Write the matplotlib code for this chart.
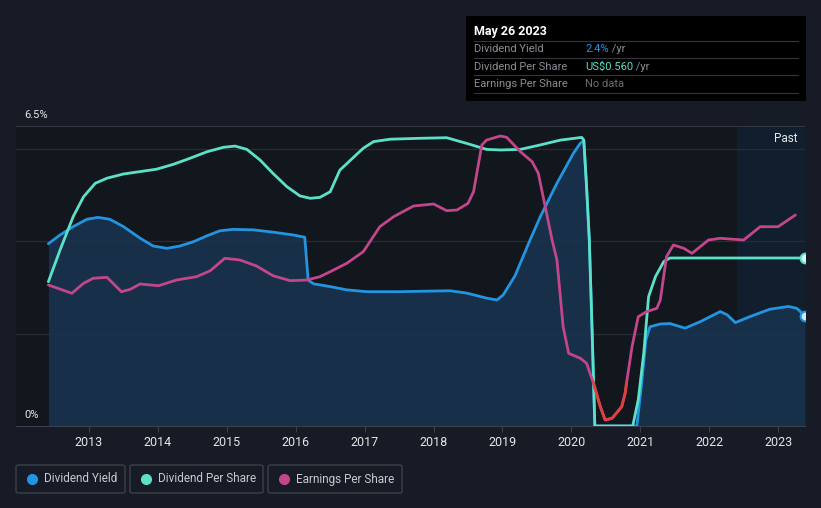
import numpy as np
import matplotlib
matplotlib.use("Agg")
import matplotlib.pyplot as plt
from matplotlib.patches import FancyBboxPatch, Rectangle
from matplotlib.lines import Line2D

plt.rcParams['font.family'] = ['Roboto', 'DejaVu Sans']

# --- data (decimal years) ---
yield_years = [2012.41, 2012.58, 2012.77, 2012.97, 2013.13, 2013.30, 2013.50, 2013.74,
               2013.93, 2014.13, 2014.32, 2014.51, 2014.71, 2014.90, 2015.09, 2015.38,
               2015.67, 2015.96, 2016.13, 2016.18, 2016.26, 2016.50, 2016.74,
               2017.03, 2017.47, 2018.24, 2018.48, 2018.77, 2018.92, 2019.01, 2019.18,
               2019.40, 2019.55, 2019.79, 2020.03, 2020.13, 2020.18, 2020.22, 2020.26,
               2020.30, 2020.34, 2020.95, 2021.02, 2021.08, 2021.14, 2021.29, 2021.43,
               2021.65, 2021.87, 2022.16, 2022.26, 2022.38, 2022.59, 2022.88, 2023.15,
               2023.27, 2023.39]
yield_pct = [3.95, 4.14, 4.32, 4.48, 4.52, 4.48, 4.32, 4.07,
             3.90, 3.85, 3.90, 3.99, 4.12, 4.23, 4.26, 4.25,
             4.20, 4.14, 4.09, 3.16, 3.08, 3.02, 2.95,
             2.91, 2.91, 2.93, 2.88, 2.77, 2.73, 2.84, 3.25,
             4.03, 4.54, 5.26, 5.91, 6.13, 6.18, 5.19, 4.03,
             2.08, 0.00, 0.00, 0.93, 1.86, 2.15, 2.21, 2.22,
             2.12, 2.26, 2.48, 2.41, 2.24, 2.37, 2.53, 2.59,
             2.55, 2.39]

dps_years = [2012.41, 2012.58, 2012.77, 2012.92, 2013.09, 2013.26, 2013.50, 2013.74,
             2013.98, 2014.22, 2014.46, 2014.71, 2014.95, 2015.12, 2015.29, 2015.48,
             2015.67, 2015.87, 2016.06, 2016.21, 2016.35, 2016.50, 2016.64, 2016.98,
             2017.13, 2017.37, 2017.80, 2018.19, 2018.48, 2018.77, 2018.97, 2019.26,
             2019.55, 2019.84, 2020.15, 2020.18, 2020.22, 2020.26, 2020.30, 2020.34,
             2020.89, 2020.97, 2021.05, 2021.12, 2021.22, 2021.34, 2021.43, 2023.39]
dps_usd = [0.481, 0.587, 0.698, 0.764, 0.809, 0.826, 0.840, 0.848,
           0.856, 0.872, 0.892, 0.914, 0.929, 0.933, 0.922, 0.887,
           0.842, 0.798, 0.767, 0.759, 0.762, 0.781, 0.853, 0.926,
           0.948, 0.956, 0.959, 0.961, 0.942, 0.922, 0.920, 0.922,
           0.937, 0.953, 0.962, 0.953, 0.798, 0.620, 0.320, 0.0,
           0.0, 0.087, 0.243, 0.431, 0.498, 0.548, 0.560, 0.560]

eps_years = [2012.41, 2012.48, 2012.75, 2012.92, 2013.06, 2013.26, 2013.47, 2013.60,
             2013.74, 2014.01, 2014.27, 2014.56, 2014.76, 2014.97, 2015.19, 2015.43,
             2015.67, 2015.92, 2016.16, 2016.35, 2016.50, 2016.74, 2016.98, 2017.22,
             2017.42, 2017.71, 2018.00, 2018.19, 2018.34, 2018.50, 2018.58, 2018.70,
             2018.77, 2018.97, 2019.06, 2019.26, 2019.43, 2019.52, 2019.62, 2019.72,
             2019.79, 2019.88, 2019.96, 2020.13, 2020.22, 2020.32, 2020.42, 2020.49,
             2020.59, 2020.73, 2020.78, 2020.80, 2020.88, 2020.97, 2021.09, 2021.24,
             2021.29, 2021.38, 2021.48, 2021.63, 2021.75, 2021.99, 2022.16, 2022.50,
             2022.74, 2023.00, 2023.25]
eps_usd = [0.98, 0.963, 0.897, 0.997, 1.047, 1.057, 0.913, 0.937,
           0.990, 0.973, 1.030, 1.063, 1.123, 1.247, 1.230, 1.170,
           1.073, 1.023, 1.030, 1.063, 1.113, 1.197, 1.313, 1.563,
           1.663, 1.770, 1.790, 1.723, 1.730, 1.797, 1.913, 2.380,
           2.430, 2.470, 2.457, 2.313, 2.213, 2.097, 1.763, 1.430,
           1.230, 0.563, 0.297, 0.247, 0.197, 0.0, -0.237, -0.370,
           -0.353, -0.237, -0.103, 0.0, 0.363, 0.663, 0.713, 0.747,
           0.830, 1.263, 1.380, 1.347, 1.297, 1.430, 1.447, 1.430,
           1.563, 1.563, 1.680]

tick_years = list(range(2013, 2024))

# --- colours ---
BG = '#161b25'
PLOT_BG = '#12161d'
C_YIELD = '#2394df'
C_DPS = '#5ce1c8'
C_EPS = '#c2468a'
C_NEG = '#e0403a'
TXT = '#e6e6e6'

fig = plt.figure(figsize=(8.21, 5.08), dpi=100)
fig.patch.set_facecolor(BG)

ax = fig.add_axes([16 / 821, 82 / 508, 789 / 821, 300 / 508])
ax.set_facecolor(PLOT_BG)
x_left, x_right = 2011.94, 2023.39
ax.set_xlim(x_left, x_right)
ax.set_ylim(0, 6.5)

# past region
ax.axvspan(2022.40, x_right, color='#10243a', alpha=0.6, lw=0, zorder=0)

for g in [2, 4, 6]:
    ax.axhline(g, color='#262b34', lw=1, zorder=1)
ax.axhline(6.5, color='#3a3f48', lw=1.2, zorder=1)

yy = np.array(yield_years)
yp = np.array(yield_pct)
ax.fill_between(yy, yp, 0, color='#183450', alpha=0.85, lw=0, zorder=2)
ax.plot(yy, yp, color=C_YIELD, lw=2, zorder=3, solid_joinstyle='round', solid_capstyle='round')
ax.plot([yy[-1]], [yp[-1]], 'o', ms=7, mfc='#cfe9fb', mec=C_YIELD, mew=1.5, zorder=5)

for s in ['top', 'right', 'left']:
    ax.spines[s].set_visible(False)
ax.spines['bottom'].set_color('#3a3f48')
ax.set_yticks([])
ax.set_xticks(tick_years)
ax.set_xticklabels([str(t) for t in tick_years], color=TXT, fontsize=9)
ax.tick_params(axis='x', length=4, color='#3a3f48', pad=3)

# dividend per share on its own scale
ax2 = ax.twinx()
ax2.set_ylim(0, 1.0)
ax2.plot(dps_years, dps_usd, color=C_DPS, lw=2, zorder=3, solid_joinstyle='round', solid_capstyle='round')
ax2.plot([dps_years[-1]], [dps_usd[-1]], 'o', ms=7, mfc='#d9fbf4', mec=C_DPS, mew=1.5, zorder=5)
ax2.axis('off')

# earnings per share on its own scale
ax3 = ax.twinx()
ax3.set_ylim(-0.43, 2.57)
ey = np.array(eps_years)
ev = np.array(eps_usd)
ax3.plot(ey, ev, color=C_EPS, lw=2, zorder=3, solid_joinstyle='round', solid_capstyle='round')
ax3.plot(ey, np.where(ev <= 0, ev, np.nan), color=C_NEG, lw=2, zorder=4, solid_joinstyle='round')
ax3.axis('off')

ax3.text(0.01, 1.02, '6.5%', transform=ax.transAxes, color=TXT, fontsize=8, va='bottom', ha='left')
ax3.text(0.01, 0.02, '0%', transform=ax.transAxes, color=TXT, fontsize=8, va='bottom', ha='left')
ax3.text(0.99, 0.98, 'Past', transform=ax.transAxes, color=TXT, fontsize=8.5, va='top', ha='right')

# tooltip
W, H = 821, 508
fig.patches.append(Rectangle((466 / W, 1 - 101 / H), 340 / W, 85 / H, transform=fig.transFigure,
                             facecolor='#000000', edgecolor='none', zorder=10))
fig.text(474 / W, 1 - 31 / H, 'May 26 2023', color='#ffffff', fontsize=9, fontweight='bold',
         va='center', zorder=11)
rows = [('Dividend Yield', '2.4%', C_YIELD, ' /yr'),
        ('Dividend Per Share', 'US$0.560', C_DPS, ' /yr'),
        ('Earnings Per Share', 'No data', '#6b6e73', '')]
for i, (lab, val, col, unit) in enumerate(rows):
    yc = 1 - (49 + 17.5 * i) / H
    fig.text(474 / W, yc, lab, color='#8a8d92', fontsize=8, va='center', zorder=11)
    t = fig.text(585 / W, yc, val, color=col, fontsize=8, va='center', zorder=11)
    if unit:
        fig.canvas.draw()
        bb = t.get_window_extent()
        fig.text(bb.x1 / W, yc, unit, color='#8a8d92', fontsize=8, va='center', zorder=11)
for ly in [41, 58, 75, 93]:
    fig.add_artist(Line2D([474 / W, 798 / W], [1 - ly / H, 1 - ly / H], transform=fig.transFigure,
                          color='#33363b', lw=0.8, zorder=11))

# legend boxes
legend = [('Dividend Yield', C_YIELD, 16, 125), ('Dividend Per Share', C_DPS, 130, 263),
          ('Earnings Per Share', C_EPS, 268, 402)]
for lab, col, x0, x1 in legend:
    fig.patches.append(FancyBboxPatch((x0 / W, 1 - 493 / H), (x1 - x0) / W, 28 / H,
                                      boxstyle='round,pad=0,rounding_size=0.003',
                                      transform=fig.transFigure, facecolor='none',
                                      edgecolor='#3a3f48', lw=1))
    fig.add_artist(Line2D([(x0 + 16) / W], [1 - 479 / H], marker='o', ms=7, color=col,
                          transform=fig.transFigure))
    fig.text((x0 + 28) / W, 1 - 479 / H, lab, color='#c8cacd', fontsize=8.5, va='center')

fig.savefig('out.png', dpi=100, facecolor=BG)
